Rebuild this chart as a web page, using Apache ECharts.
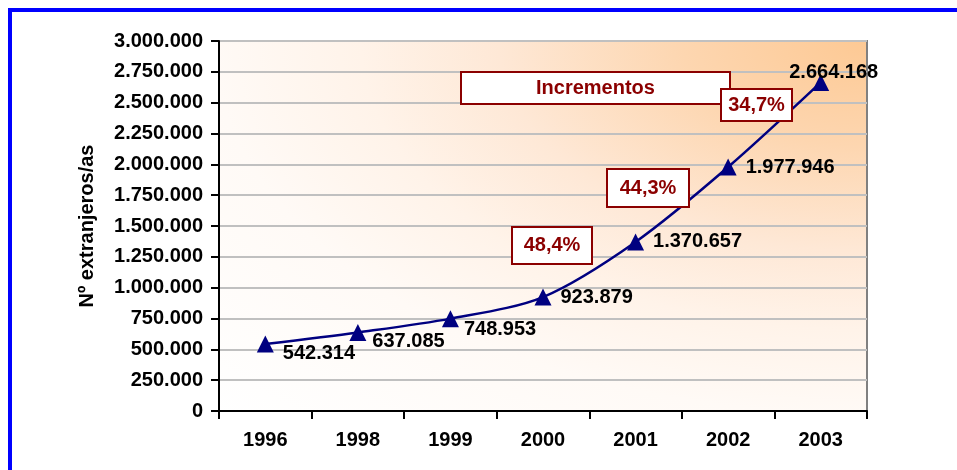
<!DOCTYPE html>
<html>
<head>
<meta charset="utf-8">
<script src="https://cdn.jsdelivr.net/npm/echarts@6/dist/echarts.min.js"></script>
<style>
  html, body { margin: 0; padding: 0; background: #fff; }
  #chart { width: 957px; height: 470px; }
</style>
</head>
<body>
<div id="chart"></div>
<script>
// data
const years = ['1996', '1998', '1999', '2000', '2001', '2002', '2003'];
const extranjeros = [542314, 637085, 748953, 923879, 1370657, 1977946, 2664168];

// thousands with dots, like the Spanish original
function fmt(v) {
  return String(v).replace(/\B(?=(\d{3})+(?!\d))/g, '.');
}
// percentage growth from one year to the next, "48,4%"
function incr(i) {
  return ((extranjeros[i] / extranjeros[i - 1] - 1) * 100).toFixed(1).replace('.', ',') + '%';
}

const font = 'Arial, "Liberation Sans", sans-serif';
const darkRed = '#8B0000';

// plot area in px
const G = { left: 219, top: 41, width: 648, height: 370 };

// per-point label tweaks so the numbers sit like in the original
const labelTweaks = {
  0: { offset: [4, 9] },
  1: { offset: [1, 9] },
  2: { offset: [0, 11] },
  6: { position: 'inside', offset: [13, -10] }
};

const chart = echarts.init(document.getElementById('chart'));

function box(text, left, top, width, height) {
  return {
    type: 'group',
    x: left,
    y: top,
    children: [
      {
        type: 'rect',
        z: 100,
        shape: { x: 0, y: 0, width: width, height: height },
        style: { fill: '#fff', stroke: darkRed, lineWidth: 2 }
      },
      {
        type: 'text',
        z: 101,
        x: width / 2,
        y: height / 2,
        style: {
          text: text,
          fill: darkRed,
          font: 'bold 20px ' + font,
          align: 'center',
          verticalAlign: 'middle'
        }
      }
    ]
  };
}

chart.setOption({
  animation: false,
  grid: {
    left: G.left,
    right: 957 - G.left - G.width,
    top: G.top,
    bottom: 470 - G.top - G.height,
    show: true,
    borderColor: '#808080',
    borderWidth: 2,
    backgroundColor: 'transparent'
  },
  xAxis: {
    type: 'category',
    data: years,
    boundaryGap: true,
    axisLine: { lineStyle: { color: '#000', width: 2 } },
    axisTick: { show: true, length: 8, lineStyle: { color: '#000', width: 2 } },
    axisLabel: {
      color: '#000',
      fontFamily: font,
      fontWeight: 'bold',
      fontSize: 20,
      margin: 19
    }
  },
  yAxis: {
    type: 'value',
    min: 0,
    max: 3000000,
    interval: 250000,
    name: 'Nº extranjeros/as',
    nameLocation: 'middle',
    nameGap: 122,
    nameTextStyle: {
      color: '#000',
      fontFamily: font,
      fontWeight: 'bold',
      fontSize: 20
    },
    axisLine: { show: true, lineStyle: { color: '#000', width: 2 } },
    axisTick: { show: true, length: 8, lineStyle: { color: '#000', width: 2 } },
    axisLabel: {
      color: '#000',
      fontFamily: font,
      fontWeight: 'bold',
      fontSize: 20,
      margin: 16,
      formatter: fmt
    },
    splitLine: { lineStyle: { color: '#C0C0C0', width: 2 } }
  },
  series: [
    {
      name: 'Nº extranjeros/as',
      type: 'line',
      smooth: 0.3,
      symbol: 'triangle',
      symbolSize: 17,
      lineStyle: { color: '#000080', width: 2.5 },
      itemStyle: { color: '#000080' },
      label: {
        show: true,
        position: 'right',
        distance: 5,
        offset: [4, 0],
        color: '#000',
        fontFamily: font,
        fontWeight: 'bold',
        fontSize: 20,
        formatter: p => fmt(p.value)
      },
      data: extranjeros.map((v, i) => labelTweaks[i] ? { value: v, label: labelTweaks[i] } : v),
      z: 3
    }
  ],
  graphic: [
    // corner gradient of the plot area: a radial fill stretched to an ellipse
    {
      type: 'rect',
      x: G.left,
      y: G.top,
      scaleX: G.width / G.height,
      scaleY: 1,
      z: -10,
      silent: true,
      shape: { x: 0, y: 0, width: G.height, height: G.height },
      style: {
        fill: {
          type: 'radial',
          x: 1,
          y: 0,
          r: 1.42,
          colorStops: [
            { offset: 0, color: '#FDC994' },
            { offset: 0.2, color: '#FDD6B0' },
            { offset: 0.4, color: '#FEE8D6' },
            { offset: 0.55, color: '#FFF3E9' },
            { offset: 0.71, color: '#FFFAF6' },
            { offset: 1, color: '#FFFFFF' }
          ]
        }
      }
    },
    // blue frame on top and left
    { type: 'rect', x: 8, y: 8, shape: { width: 949, height: 4 }, style: { fill: '#0000FF' }, z: 200 },
    { type: 'rect', x: 8, y: 8, shape: { width: 4, height: 462 }, style: { fill: '#0000FF' }, z: 200 },
    box('Incrementos', 461, 72, 269, 32),
    box(incr(6), 721, 89, 71, 32),
    box(incr(5), 607, 169, 82, 38),
    box(incr(4), 512, 227, 80, 37)
  ]
});
</script>
</body>
</html>
